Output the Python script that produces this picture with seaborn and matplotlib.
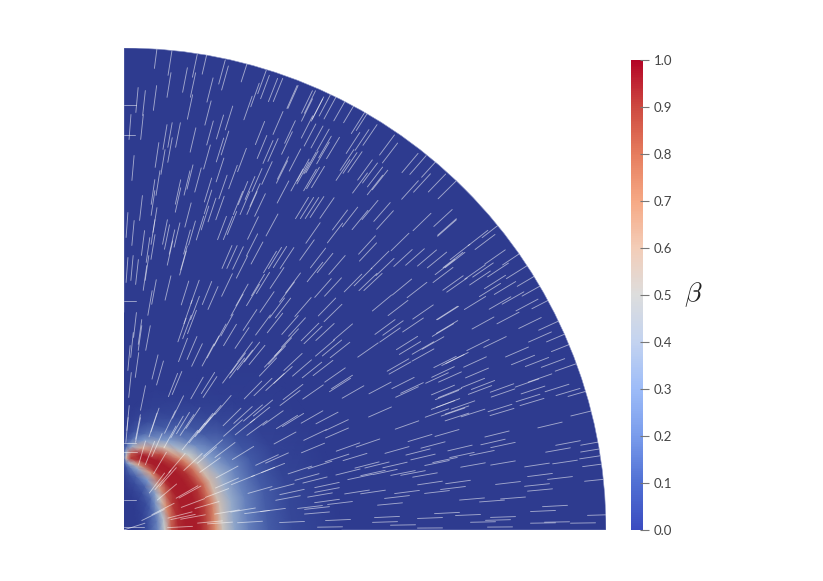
import numpy as np
import pandas as pd
import matplotlib
matplotlib.use('Agg')
import matplotlib.pyplot as plt
import seaborn as sns
from matplotlib.colors import LinearSegmentedColormap
from matplotlib.cm import ScalarMappable
from matplotlib.patches import Wedge

OUTER_RADIUS = 482

# Colour ramps: the bar as printed, and the (darker, lit) surface
bar_stops = [0.0, 0.1, 0.2, 0.3, 0.4, 0.5, 0.6, 0.7, 0.8, 0.9, 1.0]
bar_colours = ['#3b4cc0', '#5070d4', '#7a9cec', '#9dbcf8', '#c3d3f0', '#dddddd',
               '#f3cdb8', '#f6a985', '#e67d5e', '#ce4a41', '#b40426']
surface_stops = [0.0, 0.1, 0.3, 0.5, 0.7, 0.9, 1.0]
surface_colours = ['#2e3b8f', '#3f56a4', '#7e9bcb', '#c9cbc8', '#db9676', '#b83f3a', '#a81c2a']

# Beta on a polar grid
band_angles = [0, 15, 30, 42, 50, 65, 78, 85, 88.5, 90]
band_radii = [0, 14, 24, 34, 41, 48, 55, 63, 67, 72, 77, 84, 92, 99, 111, 125, 145, 169, 217]
beta_0 = [0, 0, .08, .25, .5, .85, .97, 1, 1, 1, .97, .86, .7, .52, .34, .22, .12, .05, 0]
beta_15 = [0, 0, .07, .22, .46, .8, .95, 1, 1, 1, .98, .89, .74, .55, .36, .23, .12, .04, 0]
beta_30 = [0, 0, .05, .17, .38, .7, .91, 1, 1, 1, .99, .93, .78, .58, .38, .24, .11, .03, 0]
beta_42 = [0, 0, .03, .11, .26, .5, .8, .97, 1, 1, 1, .94, .77, .55, .32, .18, .07, .02, 0]
beta_50 = [0, 0, .02, .07, .16, .34, .66, .92, 1, 1, 1, .93, .72, .49, .25, .12, .04, .01, 0]
beta_65 = [0, 0, 0, .03, .07, .14, .3, .68, .92, 1, 1, .86, .54, .31, .13, .05, .01, 0, 0]
beta_78 = [0, 0, 0, .01, .03, .07, .14, .36, .66, .96, 1, .62, .3, .16, .06, .02, 0, 0, 0]
beta_85 = [0, 0, 0, 0, .02, .04, .08, .2, .42, .9, .82, .36, .16, .08, .03, 0, 0, 0, 0]
beta_88 = [0, 0, 0, 0, .01, .02, .05, .1, .22, .55, .42, .16, .07, .03, .01, 0, 0, 0, 0]
beta_90 = [0, 0, 0, 0, 0, .01, .02, .05, .08, .14, .12, .06, .03, .01, 0, 0, 0, 0, 0]

# Streak centres, by part of the quadrant
streaks_top = [(32,474),(46,467),(45,445),(61,450),(71,465),(81,468),(69,445),(66,423),(86,440),(31,432),(13,430),(20,427),(18,403),(6,403),(98,458),(101,452),(121,460),(84,417),(69,390),(105,412),(96,403),(124,422),(131,435),(138,448),(141,443),(149,440),(154,440),(169,433),(186,428),(183,420),(194,422),(201,425),(154,407),(166,398),(136,397),(149,380),(183,403),(193,393),(201,383),(86,397),(46,395),(54,395),(41,393),(33,375),(46,380),(39,368),(83,373),(96,380),(101,387),(118,370),(138,383),(144,378),(163,387),(186,367),(179,357),(199,377),(158,358),(159,362),(143,357),(133,350),(126,342),(9,362),(34,347),(66,353),(63,347),(74,350),(84,340),(96,360),(109,353),(119,337),(29,338),(54,338),(99,343),(131,335),(173,350),(189,352),(159,338)]
streaks_upper_left = [(17,322),(29,327),(54,330),(64,315),(84,328),(81,312),(88,320),(96,322),(114,327),(121,327),(128,327),(136,325),(31,310),(29,298),(41,298),(43,293),(48,288),(53,295),(68,297),(63,288),(76,302),(98,302),(104,302),(108,307),(129,302),(148,305),(9,297),(19,287),(24,280),(29,283),(3,305),(60,272),(46,277),(59,267),(103,273),(108,273),(114,272),(118,263),(128,285),(133,277),(146,268),(151,272),(156,273),(163,272),(23,262),(21,252),(8,262),(13,258),(3,260),(44,242),(30,238),(26,227),(61,237),(71,238),(83,237),(89,232),(103,245),(118,235),(134,245),(139,247),(129,235),(153,252),(163,238),(153,222),(64,218),(71,222),(113,225),(143,228),(159,222)]
streaks_left = [(11,205),(16,198),(16,192),(24,192),(8,185),(5,172),(13,165),(31,163),(36,157),(6,145),(19,132),(4,112),(14,103),(31,110),(49,145),(53,147),(58,200),(63,203),(68,208),(59,180),(68,182),(73,175),(84,175),(89,183),(96,195),(103,205),(106,195),(118,192),(121,178),(128,178),(133,175),(114,167),(121,170),(153,175),(149,172),(159,183),(166,192),(139,205),(151,207),(166,205),(126,210),(84,147),(86,143),(73,142),(54,123),(46,108),(59,107),(69,112),(81,107),(89,115),(99,125),(108,113),(119,115),(129,117),(136,115),(139,122),(149,112),(163,108),(129,140),(139,143),(151,148),(159,155),(166,132),(169,168),(144,163),(106,157),(113,162)]
streaks_arc = [(183,428),(193,420),(206,422),(216,420),(226,418),(239,410),(234,407),(168,433),(186,395),(199,390),(209,382),(229,387),(238,390),(246,395),(263,385),(266,377),(188,368),(179,360),(186,350),(171,370),(194,353),(223,370),(226,367),(231,368),(219,360),(241,360),(246,357),(251,353),(256,350),(236,347),(286,367),(294,365),(306,362),(298,347),(313,347),(323,340),(286,340),(251,345)]
streaks_middle = [(178,322),(183,322),(188,322),(193,323),(203,322),(216,310),(226,313),(211,297),(236,310),(246,320),(258,318),(261,310),(189,297),(183,280),(194,272),(201,267),(191,258),(213,265),(169,247),(199,242),(209,243),(179,223),(203,223),(209,217),(229,247),(243,285),(244,278),(239,253),(244,248),(256,270),(261,263),(276,288),(279,272),(291,273),(303,272),(298,308),(319,312),(323,302),(329,270),(319,255),(333,245),(278,243),(293,240),(258,227),(274,222),(299,218),(323,217),(249,248),(313,270)]
streaks_lower_middle = [(173,203),(186,198),(189,195),(201,198),(201,182),(208,182),(216,180),(219,198),(178,162),(188,160),(199,162),(211,155),(218,148),(216,145),(169,138),(189,138),(229,138),(244,180),(261,203),(269,202),(266,195),(289,205),(319,200),(283,187),(286,182),(299,182),(309,187),(299,175),(274,165),(276,162),(321,168),(329,170),(319,158),(313,152),(256,142),(279,147),(283,138),(288,142),(319,140),(323,135),(256,118),(188,113),(203,112),(213,105),(169,110),(283,105),(319,125),(313,117),(333,113),(329,118)]
streaks_bottom = [(161,92),(191,95),(213,97),(189,82),(224,83),(244,87),(153,72),(149,62),(176,60),(196,65),(183,53),(191,50),(213,72),(231,73),(224,58),(243,65),(253,65),(271,65),(249,57),(261,58),(273,80),(294,78),(299,73),(296,92),(309,85),(313,67),(236,53),(279,57),(289,57),(301,55),(158,43),(168,38),(164,32),(203,45),(203,40),(196,35),(233,38),(249,38),(216,27),(203,29),(186,23),(193,22),(193,17),(168,8),(214,10),(149,20),(266,26),(283,38),(263,13),(273,33),(261,8),(279,5),(206,3),(306,47),(313,38),(306,12),(306,2)]
streaks_right = [(323,303),(354,292),(361,288),(368,300),(336,278),(331,270),(321,263),(371,273),(389,272),(351,258),(359,260),(374,260),(329,247),(356,252),(371,248),(381,242),(404,250),(409,240),(393,258),(351,227),(366,240),(376,227),(389,232),(403,225),(419,227),(324,217),(359,207),(384,212),(406,207),(426,205),(434,193),(439,183),(323,203),(354,185),(371,188),(393,178),(416,193),(399,170),(413,168),(429,167),(443,163),(333,172),(351,168),(326,153),(353,157),(349,147),(359,145),(356,140),(326,137),(378,142),(379,137),(403,147),(416,152),(409,140),(404,132),(408,128),(433,142),(444,138),(456,137),(459,117),(339,125),(333,120),(349,117),(376,122),(378,118),(426,105),(324,127)]
streaks_lower_right = [(336,82),(323,97),(373,96),(369,88),(379,85),(338,75),(358,77),(321,70),(444,87),(434,80),(469,87),(469,80),(468,73),(471,65),(413,65),(441,68),(349,65),(379,67),(416,55),(436,52),(384,47),(334,48),(329,42),(413,45),(416,40),(348,31),(368,29),(389,32),(323,17),(344,15),(379,13),(374,10),(359,8),(419,19),(431,24),(376,3),(419,7),(433,8),(459,7),(473,50),(476,15)]
streaks_band = [(14,100),(3,100),(29,105),(53,103),(63,105),(79,103),(83,107),(33,85),(46,93),(66,90),(73,97),(89,82),(109,102),(121,103),(133,102),(26,77),(18,77),(36,67),(53,67),(83,75),(101,80),(119,77),(69,68),(86,65),(143,70),(139,58),(103,58),(44,53),(33,47),(39,50),(119,50),(103,47),(43,38),(66,38),(63,38),(93,37),(136,40),(69,27),(83,25),(39,21),(29,15),(56,15),(69,13),(59,13),(119,20),(133,18),(86,8),(96,7),(126,8),(56,3),(9,3),(103,18)]
streak_length = 25
streak_lean = 0.96  # streaks lean a little off the radial direction

# The few short horizontal streaks along the left edge
edge_heights = [425, 395, 229, 87, 78, 30, 3]
edge_lengths = [12, 11, 12, 12, 13, 12, 20]

colorbar_ticks = [0.0, 0.1, 0.2, 0.3, 0.4, 0.5, 0.6, 0.7, 0.8, 0.9, 1.0]


def make_cmap(name, stops, colours):
    return LinearSegmentedColormap.from_list(name, list(zip(stops, colours)), N=256)


def streak_table():
    """One row per streak end, each streak pointing away from the origin."""
    centres = np.array(streaks_top + streaks_upper_left + streaks_left + streaks_arc
                       + streaks_middle + streaks_lower_middle + streaks_bottom
                       + streaks_right + streaks_lower_right + streaks_band, dtype=float)
    angle = np.arctan2(centres[:, 1], centres[:, 0]) * streak_lean
    half = streak_length / 2
    ids = np.arange(len(centres))
    inner = pd.DataFrame({'id': ids, 'x': centres[:, 0] - half * np.cos(angle),
                          'y': centres[:, 1] - half * np.sin(angle)})
    outer = pd.DataFrame({'id': ids, 'x': centres[:, 0] + half * np.cos(angle),
                          'y': centres[:, 1] + half * np.sin(angle)})
    edge = pd.DataFrame({'id': len(centres) + np.arange(len(edge_heights)), 'x': 0.0,
                         'y': np.array(edge_heights, dtype=float)})
    edge_end = edge.assign(x=np.array(edge_lengths, dtype=float))
    return pd.concat([inner, outer, edge, edge_end], ignore_index=True).sort_values('id', kind='stable')


sns.set_theme(style='white')
plt.rcParams['font.family'] = ['Lato', 'DejaVu Sans']
plt.rcParams['mathtext.fontset'] = 'cm'

W, H = 823, 581
fig = plt.figure(figsize=(W / 100, H / 100), dpi=100, facecolor='white')
ax = fig.add_axes([124 / W, 1 - 530 / H, OUTER_RADIUS / W, OUTER_RADIUS / H])

surface_cmap = make_cmap('surface', surface_stops, surface_colours)
quadrant = Wedge((0, 0), OUTER_RADIUS, 0, 90, facecolor=surface_cmap(0.0),
                 edgecolor='#8a93c6', linewidth=0.4, zorder=1)
ax.add_patch(quadrant)

beta = np.array([beta_0, beta_15, beta_30, beta_42, beta_50, beta_65, beta_78, beta_85, beta_88, beta_90])
theta, radius = np.meshgrid(np.radians(band_angles), band_radii, indexing='ij')
ax.pcolormesh(radius * np.cos(theta), radius * np.sin(theta), beta, shading='gouraud',
              cmap=surface_cmap, vmin=0, vmax=1, zorder=2)

sns.lineplot(data=streak_table(), x='x', y='y', units='id', estimator=None, sort=False,
             color='white', alpha=0.55, linewidth=0.65, legend=False, ax=ax, zorder=3)
for line in ax.lines:
    line.set_clip_path(quadrant)
ax.set_xlim(0, OUTER_RADIUS)
ax.set_ylim(0, OUTER_RADIUS)
ax.axis('off')

# Colour bar
cax = fig.add_axes([631 / W, 1 - 530 / H, 12 / W, 470 / H])
bar_cmap = make_cmap('bar', bar_stops, bar_colours)
cbar = fig.colorbar(ScalarMappable(cmap=bar_cmap), cax=cax, ticks=colorbar_ticks)
cbar.outline.set_visible(False)
cbar.ax.tick_params(length=0, pad=7.5, labelsize=9.5, labelcolor='#444444')
cbar.ax.set_yticklabels([f'{t:.1f}' for t in colorbar_ticks])
cax.hlines(colorbar_ticks, 0.75, 1.5, color='#777777', linewidth=0.8, clip_on=False, zorder=5)

fig.text(693 / W, 1 - 295 / H, r'$\beta$', fontsize=20, color='#222222', ha='center', va='center')

fig.savefig('out.png', dpi=100)
